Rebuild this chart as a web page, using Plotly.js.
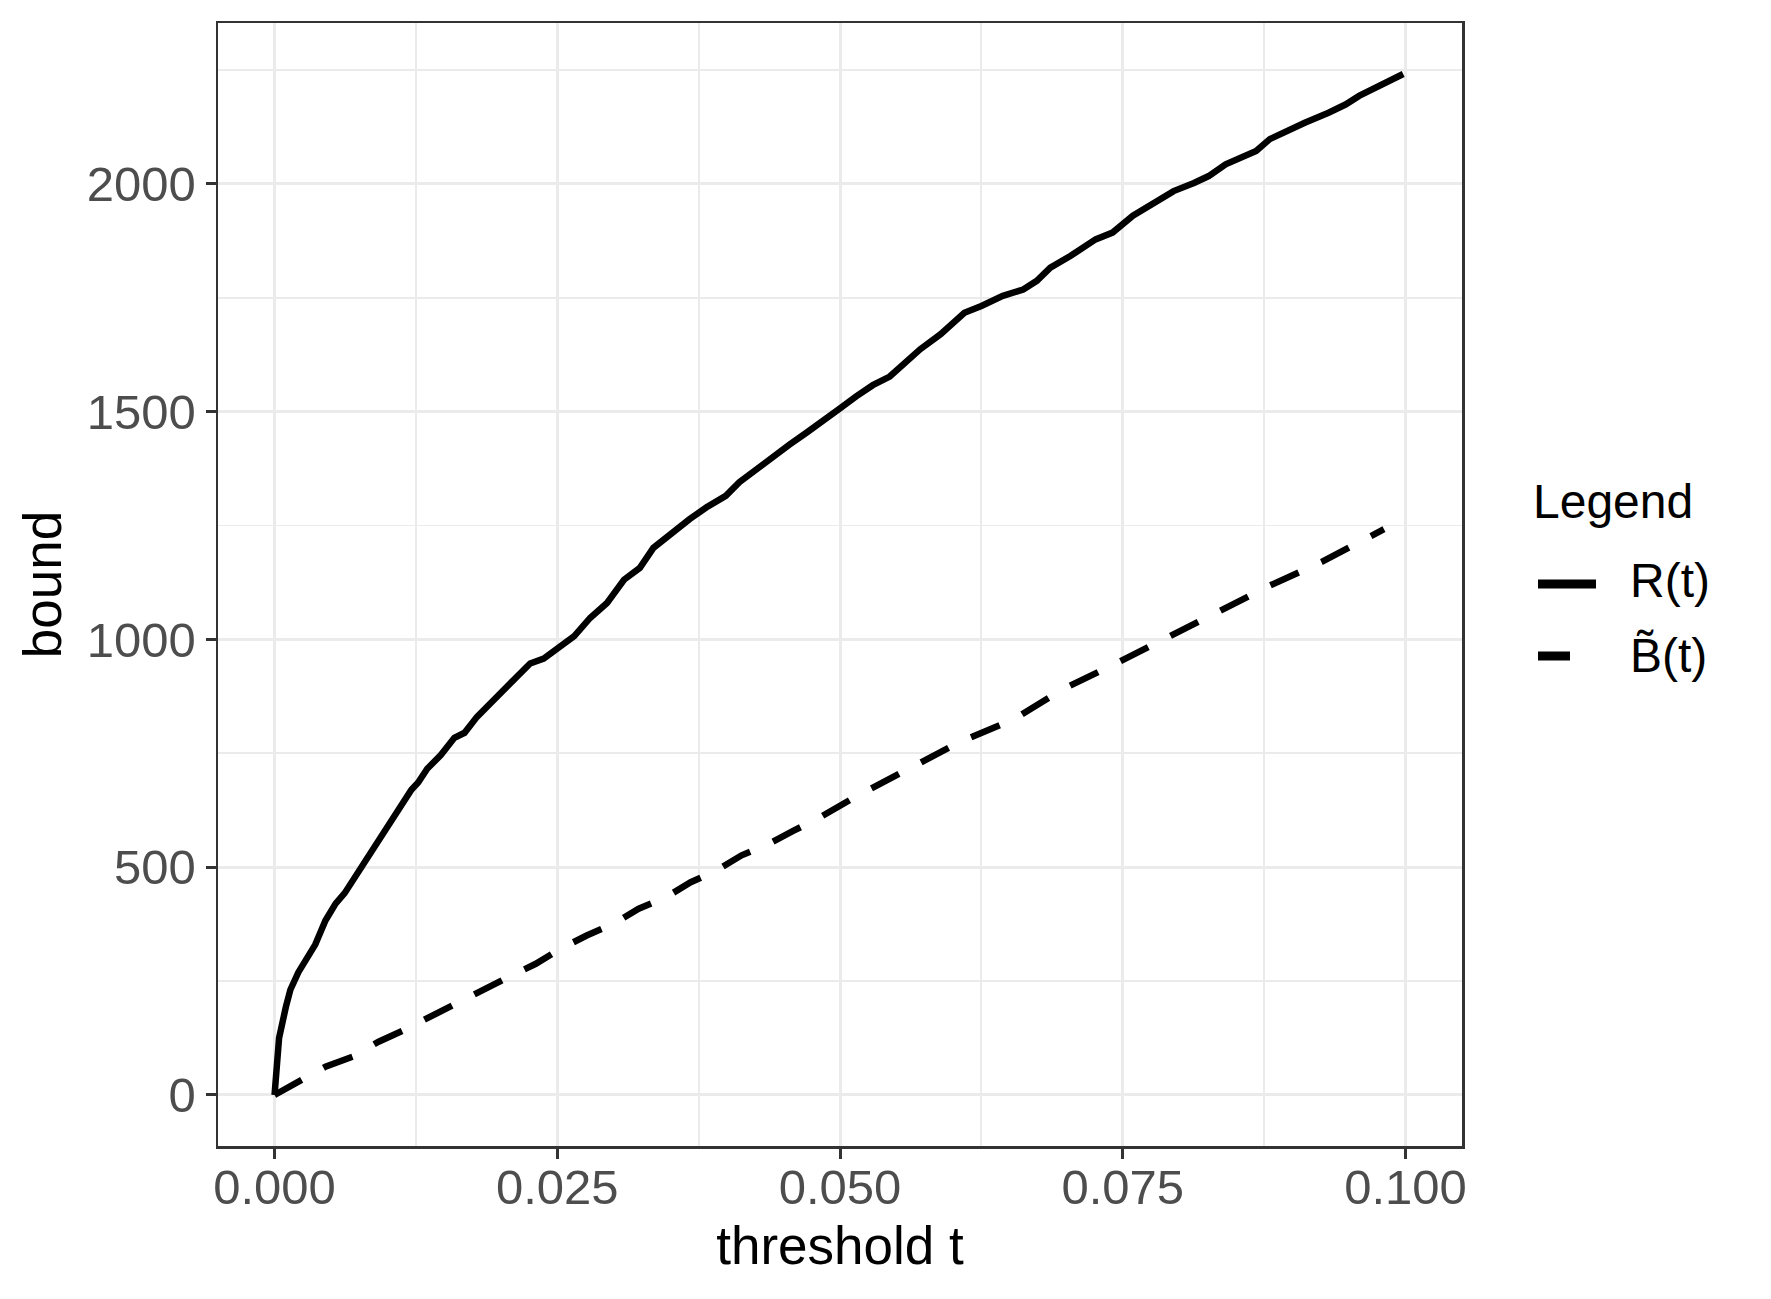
<!DOCTYPE html>
<html>
<head>
<meta charset="utf-8">
<script src="https://cdn.plot.ly/plotly-3.0.1.min.js"></script>
<style>html,body{margin:0;padding:0;background:#fff;}#chart{width:1771px;height:1299px;}</style>
</head>
<body>
<div id="chart"></div>
<script>
// R(t) curve
const tR = [0, 0.0002, 0.0004, 0.001, 0.0014, 0.0021, 0.0027, 0.0036, 0.0045, 0.0054, 0.0062, 0.0068, 0.0077, 0.0086, 0.0095, 0.0103, 0.0112, 0.0121, 0.0127, 0.0135, 0.0147, 0.0159, 0.0168, 0.0179, 0.0191, 0.0203, 0.0215, 0.0226, 0.0238, 0.025, 0.0265, 0.0279, 0.0294, 0.0309, 0.0323, 0.0335, 0.0352, 0.0367, 0.0382, 0.0399, 0.0411, 0.0426, 0.044, 0.0455, 0.047, 0.0485, 0.05, 0.0514, 0.0529, 0.0544, 0.0558, 0.0571, 0.0589, 0.061, 0.0625, 0.0644, 0.0662, 0.0674, 0.0686, 0.0704, 0.0726, 0.0741, 0.0759, 0.078, 0.0795, 0.0813, 0.0826, 0.0841, 0.0856, 0.0868, 0.088, 0.0895, 0.0911, 0.0932, 0.0947, 0.0959, 0.0978, 0.0998];
const rVals = [0, 95, 125, 193, 231, 269, 295, 330, 383, 420, 443, 466, 504, 534, 572, 602, 633, 670, 686, 716, 746, 784, 795, 830, 860, 890, 920, 947, 958, 980, 1007, 1047, 1080, 1131, 1157, 1201, 1235, 1264, 1290, 1315, 1345, 1374, 1399, 1427, 1453, 1482, 1507, 1533, 1558, 1577, 1610, 1637, 1670, 1717, 1732, 1754, 1768, 1787, 1816, 1842, 1878, 1893, 1930, 1962, 1984, 2002, 2017, 2043, 2057, 2072, 2098, 2116, 2134, 2156, 2174, 2193, 2218, 2241];
// B~(t) curve
const tB = [0, 0.002, 0.0045, 0.0069, 0.0092, 0.0114, 0.014, 0.0161, 0.0185, 0.0207, 0.0231, 0.0253, 0.0276, 0.03, 0.0322, 0.0346, 0.0368, 0.0391, 0.0413, 0.0437, 0.0459, 0.0482, 0.0514, 0.0561, 0.0607, 0.0654, 0.0698, 0.0744, 0.079, 0.0834, 0.088, 0.0926, 0.097, 0.0981];
const bVals = [0, 26, 62, 84, 117, 142, 175, 201, 234, 259, 288, 321, 350, 376, 409, 434, 467, 493, 526, 551, 580, 609, 655, 717, 776, 825, 892, 947, 1004, 1060, 1118, 1170, 1228, 1242];
const seriesNames = ["R(t)", "B\u0303(t)"];
const legendTitle = "Legend";
const xTickVals = [0, 0.025, 0.05, 0.075, 0.1];
const yTickVals = [0, 500, 1000, 1500, 2000];

const FONT = "Liberation Sans, Arial, sans-serif";
const W = 1771, H = 1299;
const M = {l: 218, r: 309, t: 23, b: 153};
const PW = W - M.l - M.r, PH = H - M.t - M.b;
const px = v => (v - M.l) / PW;          // pixel x -> paper x
const py = v => (H - M.b - v) / PH;      // pixel y -> paper y

const traces = [
  {x: tR, y: rVals, name: seriesNames[0], type: "scatter", mode: "lines",
   line: {color: "#000000", width: 6.5, dash: "solid"}, showlegend: false},
  {x: tB, y: bVals, name: seriesNames[1], type: "scatter", mode: "lines",
   line: {color: "#000000", width: 6.5, dash: "31px,25px"}, showlegend: false}
];

// legend drawn as key lines + labels (outside the plotting area)
const shapes = [
  {type: "line", xref: "paper", yref: "paper", x0: px(1538), x1: px(1596), y0: py(584), y1: py(584),
   line: {color: "#000000", width: 9}},
  {type: "line", xref: "paper", yref: "paper", x0: px(1538), x1: px(1570), y0: py(656), y1: py(656),
   line: {color: "#000000", width: 9}}
];
const annotations = [
  {text: legendTitle, xref: "paper", yref: "paper", x: px(1531), y: py(502), xanchor: "left", yanchor: "middle",
   showarrow: false, font: {size: 48, color: "#000000", family: FONT}},
  {text: seriesNames[0], xref: "paper", yref: "paper", x: px(1628), y: py(580), xanchor: "left", yanchor: "middle",
   showarrow: false, font: {size: 48, color: "#000000", family: FONT}},
  {text: seriesNames[1], xref: "paper", yref: "paper", x: px(1628), y: py(655), xanchor: "left", yanchor: "middle",
   showarrow: false, font: {size: 48, color: "#000000", family: FONT}}
];

const layout = {
  width: W, height: H,
  paper_bgcolor: "#ffffff", plot_bgcolor: "#ffffff",
  margin: {l: M.l, r: M.r, t: M.t, b: M.b, pad: 0},
  font: {family: FONT, color: "#000000"},
  showlegend: false,
  xaxis: {
    range: [-0.005, 0.105],
    tickvals: xTickVals, tickformat: ".3f",
    ticks: "outside", ticklen: 10, tickwidth: 3, tickcolor: "#333333",
    ticklabelstandoff: -13,
    tickfont: {size: 49, color: "#4D4D4D", family: FONT},
    showgrid: true, gridcolor: "#EBEBEB", gridwidth: 3,
    minor: {dtick: 0.0125, tick0: 0, showgrid: true, gridcolor: "#EBEBEB", gridwidth: 1.8, ticks: ""},
    zeroline: false, showline: true, mirror: true, linecolor: "#333333", linewidth: 2.5,
    title: {text: "threshold t", font: {size: 53, color: "#000000", family: FONT}, standoff: 14}
  },
  yaxis: {
    range: [-112, 2353],
    tickvals: yTickVals, tickformat: "d",
    ticks: "outside", ticklen: 10, tickwidth: 3, tickcolor: "#333333",
    tickfont: {size: 49, color: "#4D4D4D", family: FONT},
    showgrid: true, gridcolor: "#EBEBEB", gridwidth: 3,
    minor: {dtick: 250, tick0: 0, showgrid: true, gridcolor: "#EBEBEB", gridwidth: 1.8, ticks: ""},
    zeroline: false, showline: true, mirror: true, linecolor: "#333333", linewidth: 2.5,
    title: {text: "bound", font: {size: 53, color: "#000000", family: FONT}, standoff: 8}
  },
  shapes: shapes,
  annotations: annotations
};
Plotly.newPlot("chart", traces, layout, {displayModeBar: false, staticPlot: true});
</script>
</body>
</html>
